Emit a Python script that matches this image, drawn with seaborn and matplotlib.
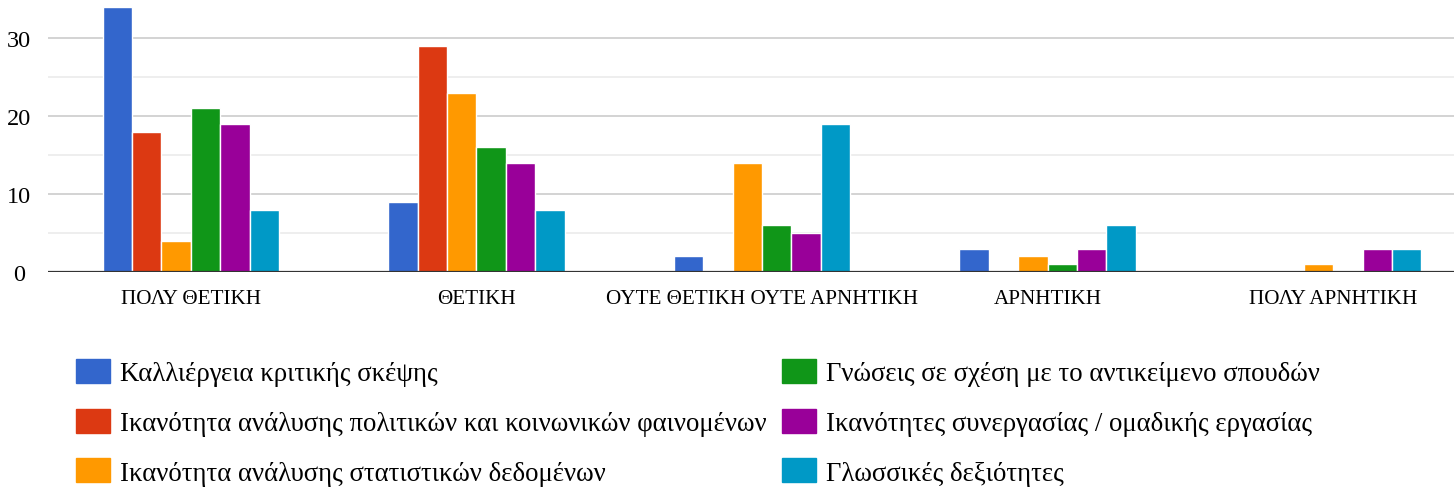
import matplotlib
matplotlib.use("Agg")
import matplotlib.pyplot as plt
import matplotlib.patches as mpatches
import seaborn as sns
import pandas as pd

categories = ["ΠΟΛΥ ΘΕΤΙΚΗ", "ΘΕΤΙΚΗ", "ΟΥΤΕ ΘΕΤΙΚΗ ΟΥΤΕ ΑΡΝΗΤΙΚΗ", "ΑΡΝΗΤΙΚΗ", "ΠΟΛΥ ΑΡΝΗΤΙΚΗ"]
series = [
    "Καλλιέργεια κριτικής σκέψης",
    "Ικανότητα ανάλυσης πολιτικών και κοινωνικών φαινομένων",
    "Ικανότητα ανάλυσης στατιστικών δεδομένων",
    "Γνώσεις σε σχέση με το αντικείμενο σπουδών",
    "Ικανότητες συνεργασίας / ομαδικής εργασίας",
    "Γλωσσικές δεξιότητες",
]
critical = [34, 9, 2, 3, 0]
political = [18, 29, 0, 0, 0]
statistical = [4, 23, 14, 2, 1]
knowledge = [21, 16, 6, 1, 0]
teamwork = [19, 14, 5, 3, 3]
language = [8, 8, 19, 6, 3]
colors = ["#3366cc", "#dc3912", "#ff9900", "#109618", "#990099", "#0099c6"]

values = [critical, political, statistical, knowledge, teamwork, language]
rows = []
for name, vals in zip(series, values):
    for cat, v in zip(categories, vals):
        rows.append({"category": cat, "series": name, "value": v})
df = pd.DataFrame(rows)

plt.rcParams["font.family"] = ["Liberation Serif", "DejaVu Serif"]

fig = plt.figure(figsize=(14.54, 4.89), dpi=100)
ax = fig.add_axes([48 / 1454, 216 / 489, 1406 / 1454, 273 / 489])

sns.barplot(data=df, x="category", y="value", hue="series", order=categories,
            hue_order=series, palette=colors, saturation=1, width=0.617,
            edgecolor="white", linewidth=1, legend=False, ax=ax)

ax.set_xlim(-0.5, 4.423)
ax.set_ylim(0, 35)
ax.set_yticks([0, 10, 20, 30])
ax.set_yticks([5, 15, 25], minor=True)
ax.grid(axis="y", which="major", color="#cccccc", linewidth=1.2)
ax.grid(axis="y", which="minor", color="#ebebeb", linewidth=1.2)
ax.set_axisbelow(True)
ax.axhline(0, color="#333333", linewidth=1.6, zorder=5)
for s in ax.spines.values():
    s.set_visible(False)
ax.tick_params(axis="both", which="both", length=0)
ax.tick_params(axis="y", labelsize=17.5, pad=21)
for lbl in ax.get_yticklabels():
    lbl.set_horizontalalignment("center")
ax.tick_params(axis="x", labelsize=15.2, pad=12)
ax.set_xlabel("")
ax.set_ylabel("")

handles = [mpatches.Patch(color=c, label=s) for c, s in zip(colors, series)]
leg_kw = dict(loc="upper left", frameon=False, fontsize=19.3, handlelength=1.27,
              handleheight=1.0, handletextpad=0.38, labelspacing=0.84,
              borderaxespad=0, borderpad=0)
leg1 = fig.legend(handles=handles[:3], bbox_to_anchor=(76 / 1454, 1 - 360 / 489), **leg_kw)
leg2 = fig.legend(handles=handles[3:], bbox_to_anchor=(782 / 1454, 1 - 360 / 489), **leg_kw)

fig.savefig("out.png", dpi=100)
